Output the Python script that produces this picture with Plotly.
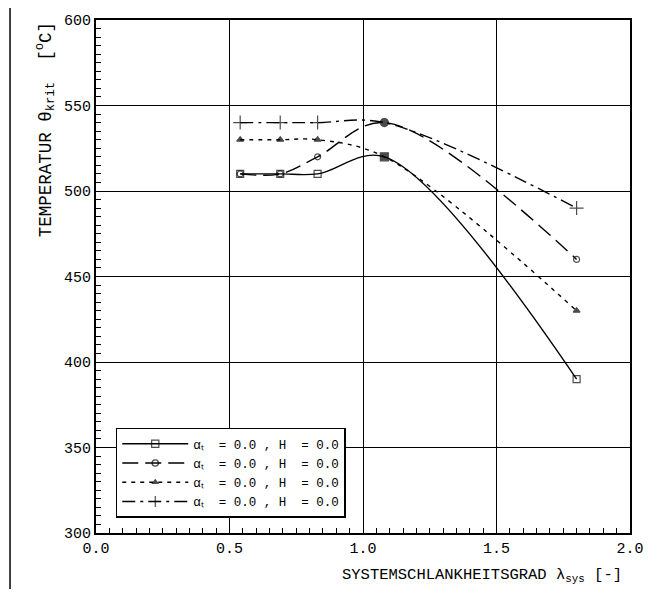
import plotly.graph_objects as go

# lambda_sys values of the calculated points
lam = [0.54, 0.69, 0.83, 1.08, 1.80]

# critical temperatures for each parameter set
theta_sq = [510, 510, 510, 520, 390]
theta_ci = [510, 510, 520, 540, 460]
theta_tr = [530, 530, 530, 520, 430]
theta_pl = [540, 540, 540, 540, 490]

sp = "\u00a0"
legend_txt = "\u03b1\u209c" + sp * 2 + "=" + sp + "0.0" + sp + "," + sp + "H" + sp * 2 + "=" + sp + "0.0"
font = "Liberation Mono"

def series(y, symbols, sizes, dash, name):
    return go.Scatter(
        x=lam, y=y, name=name,
        mode="lines+markers",
        line=dict(color="black", width=1.4, dash=dash, shape="spline", smoothing=1.0),
        marker=dict(symbol=symbols, size=sizes, color="black",
                    line=dict(color="black", width=1.2)),
    )

fig = go.Figure()
fig.add_trace(series(theta_sq, ["square-open"] * 3 + ["square"] + ["square-open"],
                     [7, 7, 7, 8, 7], "solid", legend_txt))
fig.add_trace(series(theta_ci, ["circle-open"] * 3 + ["circle"] + ["circle-open"],
                     [6, 6, 6, 8, 6], "16px,7px", legend_txt))
fig.add_trace(series(theta_tr, "triangle-up", [6, 6, 6, 0, 6], "4px,5px", legend_txt))
fig.add_trace(series(theta_pl, "cross-thin-open", [10, 10, 10, 0, 10],
                     "13px,5px,3px,5px", legend_txt))

axis_common = dict(
    showline=True, mirror=True, linecolor="black", linewidth=2,
    showgrid=True, gridcolor="black", gridwidth=1.2,
    zeroline=False, ticks="", ticklabeloverflow="allow",
    tickfont=dict(family=font, size=15, color="black"),
)

fig.update_xaxes(range=[0, 2], dtick=0.5, tickformat=".1f",
                 minor=dict(dtick=0.05, ticks="inside", ticklen=5, tickcolor="black",
                            showgrid=False),
                 **axis_common)
fig.update_yaxes(range=[300, 600], dtick=50,
                 minor=dict(dtick=5, ticks="inside", ticklen=5, tickcolor="black",
                            showgrid=False),
                 **axis_common)

fig.add_annotation(text="TEMPERATUR \u03b8<sub>krit</sub>  [<sup>o</sup>C]",
                   xref="paper", yref="paper", x=-0.094, y=1.0,
                   xanchor="center", yanchor="top", textangle=-90, showarrow=False,
                   font=dict(family=font, size=17.5, color="black"))
fig.add_annotation(text="SYSTEMSCHLANKHEITSGRAD \u03bb<sub>sys</sub> [-]",
                   xref="paper", yref="paper", x=0.988, y=-0.082,
                   xanchor="right", yanchor="middle", showarrow=False,
                   font=dict(family=font, size=15.5, color="black"))

# scan border on the left
fig.add_shape(type="line", xref="paper", yref="paper",
              x0=-0.161, x1=-0.161, y0=-0.12, y1=1.03,
              line=dict(color="black", width=1.5))

fig.update_layout(
    width=641, height=581,
    margin=dict(l=88, r=14, t=5, b=56),
    paper_bgcolor="white", plot_bgcolor="white",
    showlegend=True,
    legend=dict(x=0.037, y=0.03, xanchor="left", yanchor="bottom",
                bordercolor="black", borderwidth=1.5, bgcolor="white",
                itemwidth=66, font=dict(family=font, size=12.5, color="black")),
)

fig.write_html("out.html")
